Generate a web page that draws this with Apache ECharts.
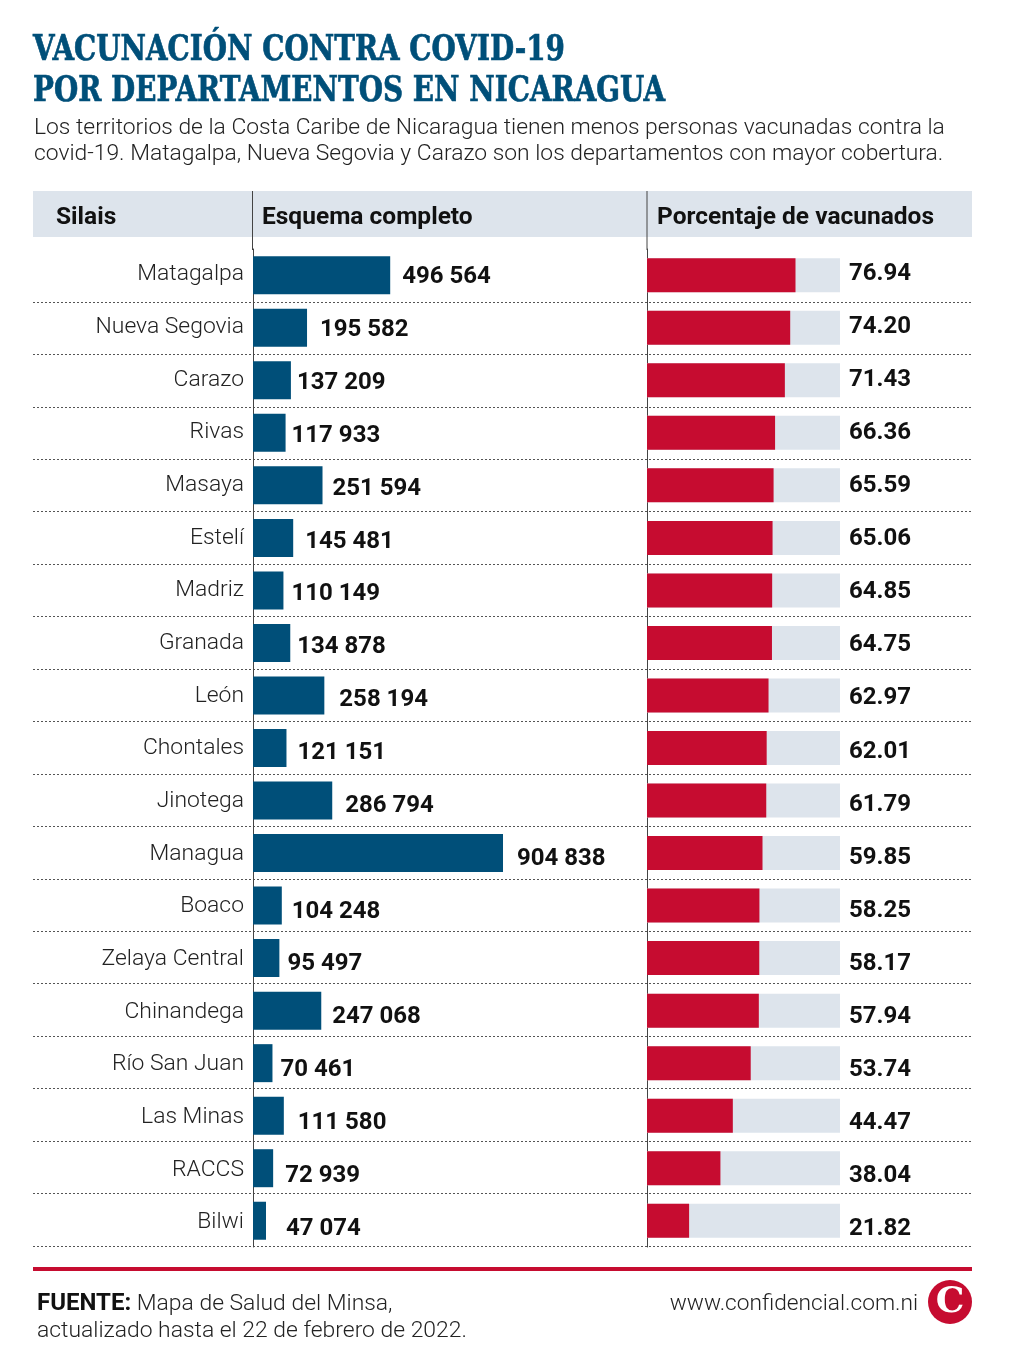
<!DOCTYPE html>
<html>
<head>
<meta charset="utf-8">
<style>html,body{margin:0;padding:0;background:#fff}#chart{width:1024px;height:1360px}</style>
<script src="https://cdn.jsdelivr.net/npm/echarts@6/dist/echarts.min.js"></script>
</head>
<body>
<div id="chart"></div>
<script>
var silais = ['Matagalpa','Nueva Segovia','Carazo','Rivas','Masaya','Estelí','Madriz','Granada','León','Chontales','Jinotega','Managua','Boaco','Zelaya Central','Chinandega','Río San Juan','Las Minas','RACCS','Bilwi'];
var esquema = [496564,195582,137209,117933,251594,145481,110149,134878,258194,121151,286794,904838,104248,95497,247068,70461,111580,72939,47074];
var porcentaje = [76.94,74.20,71.43,66.36,65.59,65.06,64.85,64.75,62.97,62.01,61.79,59.85,58.25,58.17,57.94,53.74,44.47,38.04,21.82];

// ajuste horizontal de cada etiqueta de esquema, el original no las alinea igual
var ajusteX = [1,2,-5,-5,-1,1,-3,-4,4,0,2,3,-1,-3,0,-3,3,1,9];

var BLUE = '#004f79', RED = '#c60c30', PALE = '#dde4ec';
var thin = '"Roboto", sans-serif';

function txt(x, y, text, size, weight, color, sx, family, stroke) {
	var t = {
		type: 'text', x: x, y: y, scaleX: sx || 1,
		style: { text: text, fontSize: size, fontWeight: weight, fill: color, fontFamily: family || thin, textVerticalAlign: 'middle' }
	};
	if (stroke) {
		t.style.stroke = color;
		t.style.lineWidth = stroke;
	}
	return t;
}

// esquema con separador de miles por espacio
function miles(n) {
	return String(n).replace(/\B(?=(\d{3})+$)/g, ' ');
}

var option = {
	animation: false,
	backgroundColor: '#fff',
	grid: [
		{ left: 253, top: 249, width: 394, height: 998 },
		{ left: 647, top: 249, width: 193, height: 998 },
		{ left: 33, top: 249.5, width: 939, height: 996.4 },
		{ left: 253, top: 248.2, width: 10, height: 1000.7 }
	],
	xAxis: [
		{ gridIndex: 0, type: 'value', min: 0, max: 1426000, show: false },
		{ gridIndex: 1, type: 'value', min: 0, max: 100, show: false },
		{ gridIndex: 2, type: 'value', min: 0, max: 1, show: false },
		{ gridIndex: 3, type: 'value', min: 0, max: 1, show: false }
	],
	yAxis: [
		{
			gridIndex: 0, type: 'category', inverse: true, data: silais,
			axisLine: { show: true, lineStyle: { color: '#444', width: 1 } },
			axisTick: { show: false }, axisLabel: { show: false }
		},
		{
			gridIndex: 1, type: 'category', inverse: true, data: silais,
			axisLine: { show: true, lineStyle: { color: '#444', width: 1 } },
			axisTick: { show: false }, axisLabel: { show: false }
		},
		{
			gridIndex: 2, type: 'category', inverse: true, data: silais,
			axisLine: { show: false }, axisTick: { show: false }, axisLabel: { show: false },
			splitLine: { show: true, showMinLine: false, lineStyle: { color: '#555', type: [2, 2], width: 1 } }
		},
		{
			gridIndex: 3, type: 'category', inverse: true, data: silais,
			axisLine: { show: false }, axisTick: { show: false },
			axisLabel: { margin: 9, fontSize: 22.9, fontWeight: 300, color: '#222', fontFamily: thin }
		}
	],
	series: [
		{
			name: 'Esquema completo', type: 'bar', xAxisIndex: 0, yAxisIndex: 0, barWidth: 38,
			data: esquema.map(function (v, i) {
				return { value: v, label: { offset: [ajusteX[i], 2 + i / 3] } };
			}),
			itemStyle: { color: BLUE },
			label: {
				show: true, position: 'right', distance: 11,
				formatter: function (p) { return miles(p.value); },
				fontSize: 24, fontWeight: 700, color: '#111', fontFamily: thin
			}
		},
		{
			name: 'Base', type: 'bar', xAxisIndex: 1, yAxisIndex: 1, barWidth: 34, barGap: '-100%',
			data: porcentaje.map(function (v, i) {
				return { value: 100, label: { offset: [0, -1 + i / 2] } };
			}),
			itemStyle: { color: PALE },
			label: {
				show: true, position: 'right', distance: 9,
				formatter: function (p) { return porcentaje[p.dataIndex].toFixed(2); },
				fontSize: 24, fontWeight: 700, color: '#111', fontFamily: thin
			}
		},
		{
			name: 'Porcentaje de vacunados', type: 'bar', xAxisIndex: 1, yAxisIndex: 1, barWidth: 34, barGap: '-100%',
			data: porcentaje, itemStyle: { color: RED }
		}
	],
	graphic: { elements: [
		{ type: 'rect', z: -1, shape: { x: 33, y: 191, width: 939, height: 46 }, style: { fill: PALE } },
		{ type: 'line', shape: { x1: 252.5, y1: 191, x2: 252.5, y2: 250 }, style: { stroke: '#444', lineWidth: 1 } },
		{ type: 'line', shape: { x1: 647, y1: 191, x2: 647, y2: 250 }, style: { stroke: '#444', lineWidth: 1 } },
		{ type: 'rect', shape: { x: 33, y: 1267, width: 939, height: 4 }, style: { fill: RED } },
		txt(33, 51, 'VACUNACIÓN CONTRA COVID-19', 35, 700, BLUE, 0.796, '"DejaVu Serif"', 0.7),
		txt(33, 92, 'POR DEPARTAMENTOS EN NICARAGUA', 35, 700, BLUE, 0.796, '"DejaVu Serif"', 0.7),
		txt(34, 128, 'Los territorios de la Costa Caribe de Nicaragua tienen menos personas vacunadas contra la', 22.85, 300, '#222'),
		txt(34, 154, 'covid-19. Matagalpa, Nueva Segovia y Carazo son los departamentos con mayor cobertura.', 22.85, 300, '#222'),
		txt(56, 218, 'Silais', 24.5, 700, '#111'),
		txt(262, 218, 'Esquema completo', 24.5, 700, '#111'),
		txt(657, 218, 'Porcentaje de vacunados', 24.5, 700, '#111'),
		{
			type: 'text', x: 37, y: 1304,
			style: {
				text: '{b|FUENTE:} Mapa de Salud del Minsa,', fontSize: 22.9, fontWeight: 300, fill: '#222', fontFamily: thin, textVerticalAlign: 'middle',
				rich: { b: { fontSize: 24, fontWeight: 700, fill: '#111', fontFamily: thin } }
			}
		},
		txt(37, 1331, 'actualizado hasta el 22 de febrero de 2022.', 22.9, 300, '#222'),
		{ type: 'text', x: 918, y: 1304, style: { text: 'www.confidencial.com.ni', textAlign: 'right', fontSize: 22.7, fontWeight: 300, fill: '#222', fontFamily: thin, textVerticalAlign: 'middle' } },
		{ type: 'circle', shape: { cx: 950, cy: 1302, r: 22 }, style: { fill: RED } },
		{ type: 'text', x: 950, y: 1303, style: { text: 'C', textAlign: 'center', textVerticalAlign: 'middle', fontSize: 36, fontWeight: 700, fill: '#fff', fontFamily: '"DejaVu Serif"' } }
	] }
};

var chart = echarts.init(document.getElementById('chart'));
chart.setOption(option);
</script>
</body>
</html>
